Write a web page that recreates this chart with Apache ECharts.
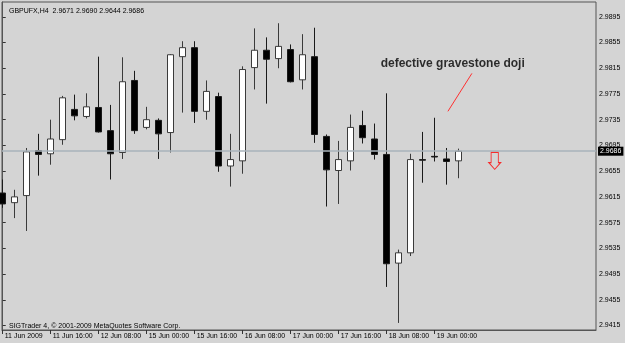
<!DOCTYPE html>
<html><head><meta charset="utf-8">
<script src="https://cdn.jsdelivr.net/npm/echarts@6/dist/echarts.min.js"></script>
<style>html,body{margin:0;padding:0;background:#d4d4d4}#c{width:625px;height:343px}</style>
</head><body><div id="c"></div>
<script>
const symbolName = 'GBPUFX,H4';
const open  = [2.9621,2.9606,2.9617,2.9687,2.9682,2.9704,2.9751,2.9740,2.9754,2.9718,2.9684,2.9796,2.9723,2.9734,2.9715,2.9833,2.9847,2.9748,2.9771,2.9663,2.9671,2.9816,2.9843,2.9830,2.9844,2.9797,2.9833,2.9709,2.9656,2.9671,2.9726,2.9705,2.9681,2.9512,2.9528,2.9673,2.9678,2.9674,2.9671];
const high  = [2.9642,2.9626,2.9691,2.9713,2.9735,2.9772,2.9774,2.9776,2.9833,2.9758,2.9832,2.9811,2.9755,2.9737,2.9837,2.9857,2.9857,2.9796,2.9777,2.9713,2.9818,2.9877,2.9863,2.9885,2.9852,2.9868,2.9878,2.9712,2.9702,2.9743,2.9749,2.9729,2.9776,2.9533,2.9682,2.9716,2.9738,2.9691,2.9690];
const low   = [2.9598,2.9582,2.9562,2.9648,2.9665,2.9696,2.9734,2.9737,2.9715,2.9642,2.9674,2.9713,2.9720,2.9674,2.9684,2.9746,2.9730,2.9735,2.9654,2.9631,2.9651,2.9782,2.9760,2.9815,2.9793,2.9782,2.9699,2.9600,2.9604,2.9656,2.9698,2.9673,2.9475,2.9419,2.9523,2.9637,2.9670,2.9634,2.9644];
const close = [2.9604,2.9615,2.9685,2.9681,2.9705,2.9769,2.9741,2.9755,2.9716,2.9682,2.9794,2.9718,2.9735,2.9713,2.9836,2.9847,2.9748,2.9779,2.9663,2.9673,2.9813,2.9843,2.9829,2.9849,2.9794,2.9836,2.9712,2.9657,2.9673,2.9723,2.9707,2.9681,2.9511,2.9528,2.9673,2.9672,2.9677,2.9670,2.9686];
const tickBars = [0,4,8,12,16,20,24,28,32,36];
const tickLabels = ['11 Jun 2009','11 Jun 16:00','12 Jun 08:00','15 Jun 00:00','15 Jun 16:00','16 Jun 08:00','17 Jun 00:00','17 Jun 16:00','18 Jun 08:00','19 Jun 00:00'];
const priceTicks = [2.9415,2.9455,2.9495,2.9535,2.9575,2.9615,2.9655,2.9695,2.9735,2.9775,2.9815,2.9855,2.9895];
const lastPrice = 2.9686;
const signalBar = 41, signalPrice = 2.9671;
const noteText = 'defective gravestone doji';
const noteBar = 37.5, notePrice = 2.9822;
const pointerFrom = [37.1, 2.9748], pointerTo = [39.1, 2.9807];
const copyright = 'SIGTrader 4, \u00a9 2001-2009 MetaQuotes Software Corp.';

const F = '"Liberation Sans", Arial, sans-serif';
const n = open.length - 1;
const headText = symbolName + '  ' + [open[n], high[n], low[n], close[n]].map(v => v.toFixed(4)).join(' ');
const candles = open.map((o, i) => [i, o, close[i], low[i], high[i]]);

const chart = echarts.init(document.getElementById('c'), null, {renderer: 'canvas'});
chart.setOption({
  animation: false,
  backgroundColor: '#d4d4d4',
  title: [
    {text: headText, left: 4, top: 3, textStyle: {fontFamily: F, fontSize: 7, fontWeight: 'normal', color: '#000'}},
    {text: copyright, left: 4, top: 318, textStyle: {fontFamily: F, fontSize: 7, fontWeight: 'normal', color: '#000'}}
  ],
  grid: {left: 2, right: 29, top: 2, bottom: 13, show: true, borderColor: '#555', borderWidth: 1, backgroundColor: 'transparent'},
  xAxis: {
    type: 'value', min: -0.06, max: 49.44,
    axisLine: {show: true, lineStyle: {color: '#555', width: 1}},
    axisTick: {show: true, customValues: tickBars, length: 4, lineStyle: {color: '#333'}},
    axisLabel: {show: true, customValues: tickBars, formatter: v => tickLabels[tickBars.indexOf(Math.round(v))] || '', align: 'left', margin: 3, padding: [0,0,0,2], fontFamily: F, fontSize: 7, color: '#000'},
    splitLine: {show: false}
  },
  yAxis: {
    type: 'value', position: 'right', min: 2.9408, max: 2.9918, scale: true,
    axisLine: {show: true, lineStyle: {color: '#555', width: 1}},
    axisTick: {show: true, customValues: priceTicks, length: 3, lineStyle: {color: '#333'}},
    axisLabel: {show: true, customValues: priceTicks, formatter: v => v.toFixed(4), margin: 3, fontFamily: F, fontSize: 7, color: '#000'},
    splitLine: {show: false}
  },
  series: [
    {
      type: 'candlestick', data: candles, encode: {x: 0, y: [1, 2, 3, 4]},
      barWidth: 7, clip: true,
      itemStyle: {color: '#ffffff', color0: '#000000', borderColor: '#3a3a3a', borderColor0: '#1a1a1a', borderWidth: 1},
      markLine: {
        silent: true, symbol: ['none', 'none'], animation: false, precision: 4,
        data: [
          {yAxis: lastPrice, lineStyle: {color: '#a9b3bb', width: 1.5, type: 'solid'},
           label: {show: true, position: 'end', distance: 2, formatter: lastPrice.toFixed(4), backgroundColor: '#000', color: '#fff', padding: [1, 2, 1, 2], fontFamily: F, fontSize: 7}},
          [{coord: pointerFrom, lineStyle: {color: '#ff3030', width: 1, type: 'solid'}, label: {show: false}}, {coord: pointerTo}]
        ]
      }
    },
    {
      type: 'scatter', data: [[signalBar, signalPrice]],
      symbol: 'path://M8,0L32,0L32,30L40,30L20,50L0,30L8,30Z', symbolSize: [12, 17],
      itemStyle: {color: 'rgba(0,0,0,0)', borderColor: '#ff0000', borderWidth: 1}, silent: true
    },
    {
      type: 'scatter', data: [[noteBar, notePrice]], symbolSize: 1,
      itemStyle: {color: 'rgba(0,0,0,0)'}, silent: true,
      label: {show: true, position: 'inside', formatter: noteText, fontFamily: F, fontSize: 12, fontWeight: 'bold', color: '#000'}
    }
  ]
});
</script></body></html>
